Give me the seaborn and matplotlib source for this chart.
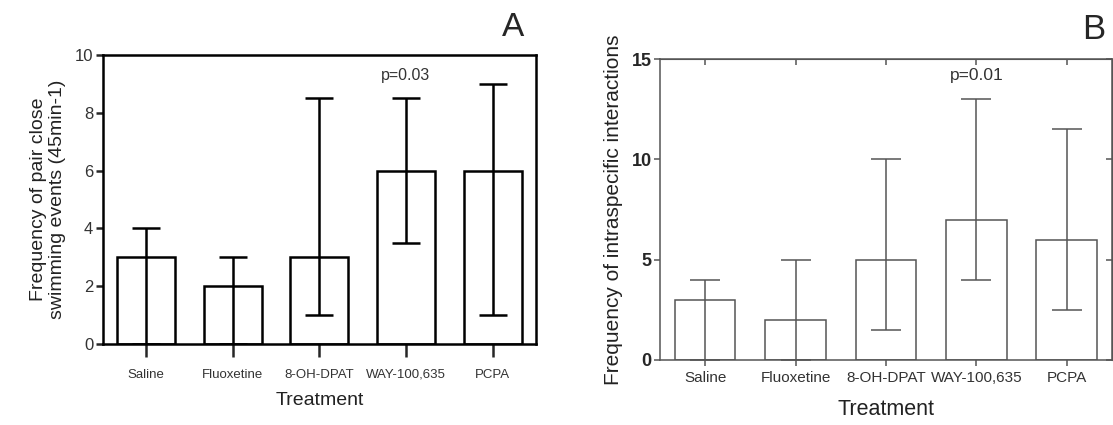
import matplotlib
matplotlib.use("Agg")
import matplotlib.pyplot as plt
import seaborn as sns
import pandas as pd

# Datos
tratamientos = ["Saline", "Fluoxetine", "8-OH-DPAT", "WAY-100,635", "PCPA"]

mediana_a = [3, 2, 3, 6, 6]
bajo_a = [0, 0, 1, 3.5, 1]
alto_a = [4, 3, 8.5, 8.5, 9]

mediana_b = [3, 2, 5, 7, 6]
bajo_b = [0, 0, 1.5, 4, 2.5]
alto_b = [4, 5, 10, 13, 11.5]

sns.set_style("ticks")
plt.rcParams["font.family"] = ["Liberation Sans", "DejaVu Sans"]

fig = plt.figure(figsize=(11.13, 4.25), dpi=100)
ax_a = fig.add_axes([0.0925, 0.1906, 0.389, 0.68])
ax_b = fig.add_axes([0.593, 0.153, 0.406, 0.708])


def dibujar_panel(ax, mediana, bajo, alto, color, lw, capsize):
    df = pd.DataFrame({"Treatment": tratamientos, "valor": mediana})
    sns.barplot(data=df, x="Treatment", y="valor", ax=ax, color="white",
                edgecolor=color, linewidth=lw, width=0.67, errorbar=None)
    err = [[m - b for m, b in zip(mediana, bajo)],
           [a - m for m, a in zip(mediana, alto)]]
    ax.errorbar(range(len(tratamientos)), mediana, yerr=err, fmt="none",
                ecolor=color, elinewidth=lw, capsize=capsize, capthick=lw)
    ax.set_xlim(-0.5, 4.5)
    for s in ax.spines.values():
        s.set_color(color)
        s.set_linewidth(lw)


# Panel A
dibujar_panel(ax_a, mediana_a, bajo_a, alto_a, "black", 1.8, 10)
ax_a.set_ylim(0, 10)
ax_a.set_yticks([0, 2, 4, 6, 8, 10])
ax_a.tick_params(axis="y", direction="out", length=5, width=1.8,
                 labelsize=12, labelcolor="#333333", pad=2)
ax_a.tick_params(axis="x", direction="out", length=9, width=1.8,
                 labelsize=9.5, labelcolor="#333333", pad=9)
ax_a.set_xlabel("Treatment", fontsize=14, color="#222222", labelpad=8)
ax_a.set_ylabel("Frequency of pair close\nswimming events (45min-1)",
                fontsize=14, color="#222222", labelpad=6)
ax_a.text(3, 9.3, "p=0.03", ha="center", va="center", fontsize=11.5, color="#333333")
fig.text(0.461, 0.935, "A", fontsize=24, ha="center", va="center")

# Panel B
gris = "#555555"
dibujar_panel(ax_b, mediana_b, bajo_b, alto_b, gris, 1.1, 11)
ax_b.set_ylim(0, 15)
ax_b.set_yticks([0, 5, 10, 15])
ax_b.tick_params(axis="y", direction="out", length=4, width=1.1, color=gris,
                 labelsize=13, pad=2)
ax_b.tick_params(axis="x", direction="out", length=4, width=1.1, color=gris,
                 labelsize=11, labelcolor="#333333", pad=4)
for lab in ax_b.get_yticklabels():
    lab.set_fontweight("bold")
# marcas interiores en los ejes superior y derecho
sec_x = ax_b.secondary_xaxis("top")
sec_x.tick_params(direction="in", length=4, width=1.1, color=gris, labeltop=False)
sec_x.spines["top"].set_color(gris)
sec_y = ax_b.secondary_yaxis("right")
sec_y.set_yticks([0, 5, 10, 15])
sec_y.tick_params(direction="in", length=4, width=1.1, color=gris, labelright=False)
sec_y.spines["right"].set_color(gris)
ax_b.set_xlabel("Treatment", fontsize=15.5, color="#222222", labelpad=10)
ax_b.set_ylabel("Frequency of intraspecific interactions", fontsize=15,
                color="#222222", labelpad=6)
ax_b.text(3, 14.2, "p=0.01", ha="center", va="center", fontsize=12.5, color="#333333")
fig.text(0.983, 0.93, "B", fontsize=25, ha="center", va="center")

fig.savefig("out.png", dpi=100)
